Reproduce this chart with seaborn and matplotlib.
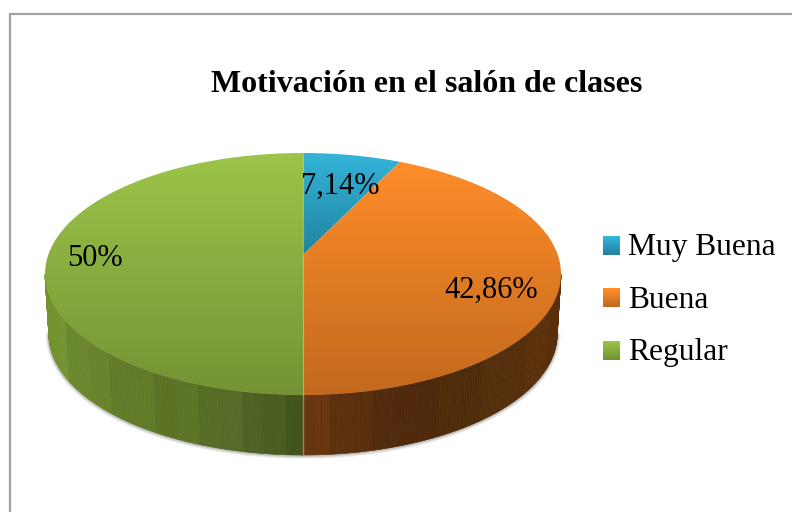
import numpy as np
import matplotlib
matplotlib.use("Agg")
import matplotlib.pyplot as plt
import seaborn as sns
from matplotlib.collections import PolyCollection
from matplotlib.legend_handler import HandlerBase
from matplotlib.patches import Patch, PathPatch, Rectangle
from matplotlib.path import Path
from matplotlib.colors import to_rgb, LinearSegmentedColormap

# Data
categories = ["Muy Buena", "Buena", "Regular"]
values = [7.14, 42.86, 50]
title = "Motivación en el salón de clases"

# Colours: top of gradient, bottom of gradient
top_light = ["#35B3D9", "#FF8D29", "#9CC54A"]
top_dark = ["#20849F", "#C2691E", "#749334"]

# Side wall colours, left to right in pixels
wall_px = [45, 100, 150, 200, 250, 302, 304, 330, 400, 470, 561]
wall_r = [0x72, 0x66, 0x5E, 0x59, 0x50, 0x40, 0x70, 0x60, 0x4F, 0x4E, 0x5C]
wall_g = [0x94, 0x80, 0x76, 0x70, 0x63, 0x54, 0x38, 0x32, 0x27, 0x2C, 0x2F]
wall_b = [0x30, 0x2A, 0x26, 0x26, 0x24, 0x1B, 0x10, 0x0E, 0x0A, 0x0A, 0x0A]

W, H = 792, 512
CX, CY, RX, RY = 303, 274, 258, 121   # ellipse of the pie top, pixels
DEPTH = 60 / RY
TILT = 19 / RY                        # perspective shift of the pie centre

sns.set_theme(style="white")
plt.rcParams["font.family"] = ["Liberation Serif", "DejaVu Serif"]


def px(x, y):
    # figure pixels to data units
    return (x - CX) / RX, (CY - y) / RY


def project(u, v):
    # perspective of a unit disc on to the tilted ellipse
    d = 1 + TILT * v
    return np.sqrt(1 - TILT ** 2) * u / d, (v + TILT) / d


def gradient(c1, c2):
    return LinearSegmentedColormap.from_list("g", [c1, c2])


class GradientHandler(HandlerBase):
    def create_artists(self, legend, orig, x0, y0, width, height, fontsize, trans):
        c1, c2 = orig.grad
        parts = []
        y0 = y0 + 1.4  # swatch sits a little above the baseline
        for i in range(10):
            c = np.array(to_rgb(c1)) * (1 - i / 9) + np.array(to_rgb(c2)) * (i / 9)
            parts.append(Rectangle((x0, y0 + height * (9 - i) / 10), width, height / 10 + 0.2,
                                   facecolor=c, edgecolor="none", transform=trans))
        return parts


fig = plt.figure(figsize=(W / 100, H / 100), dpi=100, facecolor="white")
ax = fig.add_axes([0, 0, 1, 1])

# outer frame of the chart
fig.add_artist(Rectangle((9.5 / W, -0.02), 1.2, 1 - 13.5 / H + 0.02, transform=fig.transFigure,
                         facecolor="none", edgecolor="#A3A3A3", linewidth=1.6))

# the pie itself gives the slice angles
wedges, _ = ax.pie(values, startangle=90, counterclock=False, colors=top_light)
ax.set_aspect("auto")
ax.axis("off")

# soft shadow under the wall
t = np.radians(np.linspace(180, 360, 200))
for lw, a in [(5, 0.08), (3.5, 0.12), (2, 0.2)]:
    ax.plot(0.985 * np.cos(t), np.sin(t) - DEPTH - 0.004, color="#555555", lw=lw, alpha=a,
            solid_capstyle="round", zorder=1)

# side wall in narrow bands
deg = np.linspace(180, 360, 241)
polys, cols = [], []
for a, b in zip(deg[:-1], deg[1:]):
    ta, tb = np.radians([a, b])
    polys.append([(np.cos(ta), np.sin(ta)), (np.cos(tb), np.sin(tb)),
                  (0.985 * np.cos(tb), np.sin(tb) - DEPTH), (0.985 * np.cos(ta), np.sin(ta) - DEPTH)])
    xp = CX + RX * (np.cos(ta) + np.cos(tb)) / 2
    band = int(xp // 22)
    xb = band * 22 + 11
    if (xp < CX) != (xb < CX):
        xb = xp
    shade = 1 + 0.018 * ((-1) ** band)
    cols.append(np.clip(np.array([np.interp(xb, wall_px, wall_r),
                                  np.interp(xb, wall_px, wall_g),
                                  np.interp(xb, wall_px, wall_b)]) * shade / 255, 0, 1))
ax.add_collection(PolyCollection(polys, facecolors=cols, edgecolors=cols, linewidths=0.5, zorder=2))

# seam of the wall
ax.plot([0, 0], [-1, -1 - DEPTH], color="#8C8A72", lw=1, zorder=3)

# top of the pie: each slice is a gradient clipped to its projected outline
for w, c1, c2 in zip(wedges, top_light, top_dark):
    w.set_visible(False)
    th = np.radians(np.linspace(w.theta1, w.theta2, 200))
    ex, ey = project(np.cos(th), np.sin(th))
    ox, oy = project(0.0, 0.0)
    verts = np.column_stack([np.r_[ox, ex, ox], np.r_[oy, ey, oy]])
    clip = PathPatch(Path(verts), facecolor="none", edgecolor="none", transform=ax.transData)
    ax.add_patch(clip)
    img = ax.imshow(np.linspace(0, 1, 256)[:, None], cmap=gradient(c1, c2), aspect="auto",
                    extent=(verts[:, 0].min(), verts[:, 0].max(), verts[:, 1].min(), verts[:, 1].max()),
                    origin="upper", zorder=4)
    img.set_clip_path(clip)
ax.set_xlim((0 - CX) / RX, (W - CX) / RX)
ax.set_ylim((CY - H) / RY, CY / RY)

# light seam between the halves on the top
ax.plot([0, 0], [-1, 1], color="#E8E8D8", lw=0.8, alpha=0.45, zorder=5)

# data labels
label_px = [(340, 186), (491, 290), (95, 259)]
for v, (lx, ly) in zip(values, label_px):
    dx, dy = px(lx, ly)
    ax.text(dx, dy, f"{v:g}".replace(".", ",") + "%", ha="center", va="center",
            fontsize=22, color="black", zorder=6)

tx, ty = px(427, 84)
ax.text(tx, ty, title, ha="center", va="center", fontsize=23, fontweight="bold", color="black", zorder=6)

# legend
handles = []
for name, c1, c2 in zip(categories, top_light, top_dark):
    h = Patch(label=name)
    h.grad = (c1, c2)
    handles.append(h)
ax.legend(handles=handles, handler_map={Patch: GradientHandler()}, loc="center left",
          bbox_to_anchor=(603 / W, 1 - 300 / H), frameon=False, fontsize=22.7, labelcolor="black",
          handlelength=0.54, handleheight=0.54, handletextpad=0.25, labelspacing=0.74,
          borderpad=0, borderaxespad=0)

fig.savefig("out.png", dpi=100, facecolor="white")
